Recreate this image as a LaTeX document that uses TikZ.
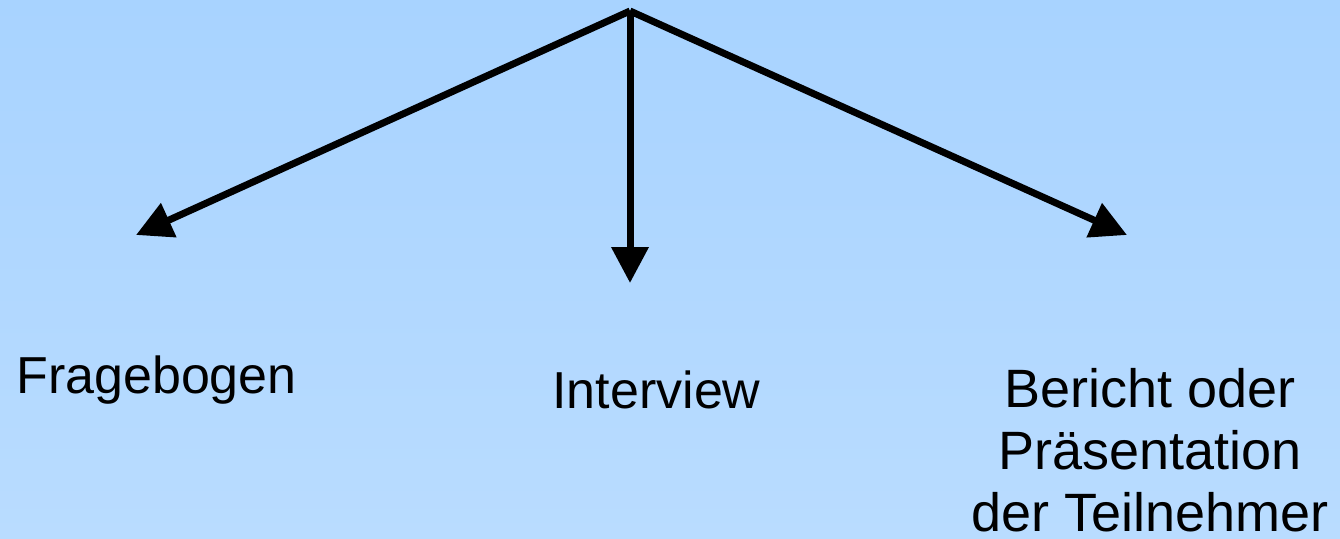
\documentclass[tikz,border=0pt]{standalone}
\usepackage{fontspec}
\setmainfont{Liberation Sans}
\usetikzlibrary{arrows.meta}
\definecolor{bgtop}{RGB}{168,211,255}
\definecolor{bgbot}{RGB}{185,220,255}
\tikzset{
  branch/.style={line width=7pt,draw=black,-{Triangle[length=36pt,width=36pt]}},
  label/.style={inner sep=0pt,font=\fontsize{52pt}{62pt}\selectfont,align=center,text=black},
  biglabel/.style={label,font=\fontsize{54pt}{62pt}\selectfont}
}
\begin{document}
\begin{tikzpicture}[x=1pt,y=-1pt]
  \useasboundingbox (0,0) rectangle (1340,538);
  \shade[top color=bgtop,bottom color=bgbot] (0,0) rectangle (1340,538);
  \coordinate (apex) at (630,11);
  \coordinate (tl) at (136,235);
  \coordinate (tm) at (630,283);
  \coordinate (tr) at (1127,235);
  \draw[branch] (apex) -- (tl);
  \draw[branch] (apex) -- (tm);
  \draw[branch] (apex) -- (tr);
  \node[label,anchor=base] (frage) at (156.5,393) {Fragebogen};
  \node[label,anchor=base] (inter) at (656.5,408) {Interview};
  \node[biglabel,anchor=base] (bericht) at (1150,531) {Bericht oder\\Präsentation\\der Teilnehmer};
\end{tikzpicture}
\end{document}
